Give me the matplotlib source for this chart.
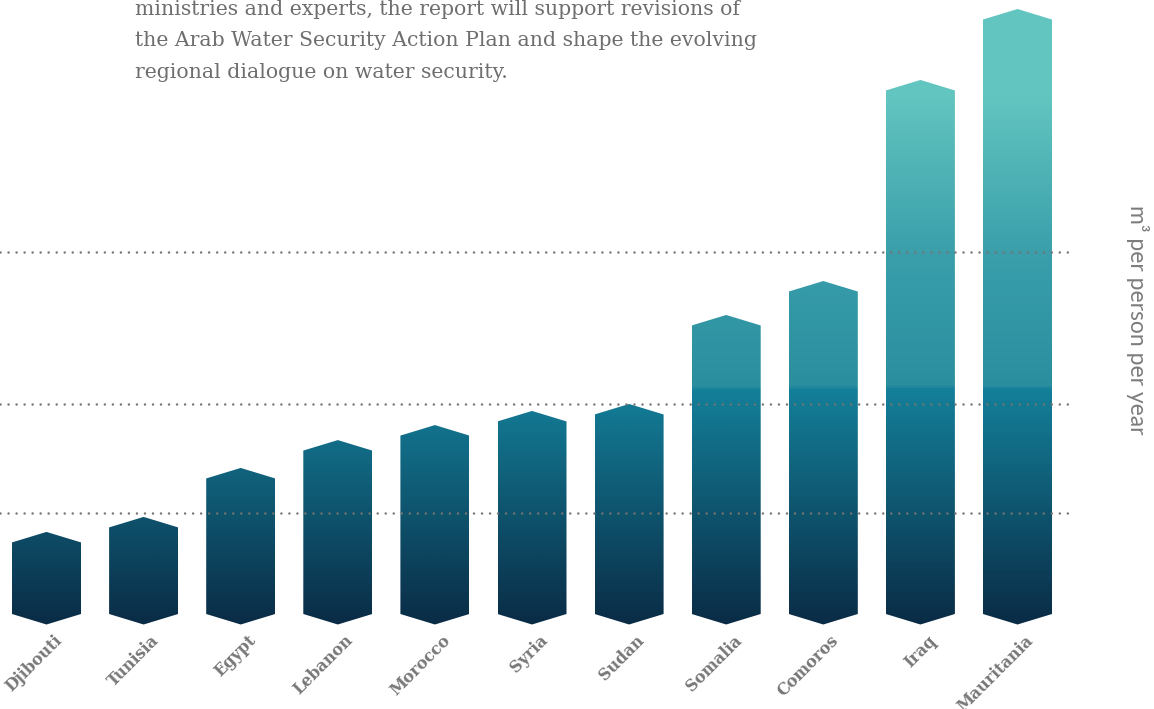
import matplotlib
matplotlib.use("Agg")
import matplotlib.pyplot as plt
import numpy as np
from matplotlib.colors import LinearSegmentedColormap, Normalize
from matplotlib.patches import Polygon

# data
countries = ["Djibouti", "Tunisia", "Egypt", "Lebanon", "Morocco", "Syria",
             "Sudan", "Somalia", "Comoros", "Iraq", "Mauritania"]
values = [414, 483, 708, 836, 905, 970, 1002, 1411, 1567, 2491, 2817]  # m3 per person per year
thresholds = [1700, 1000, 500]
intro_lines = ["ministries and experts, the report will support revisions of",
               "the Arab Water Security Action Plan and shape the evolving",
               "regional dialogue on water security."]
unit_label = "m³ per person per year"

# figure: 1154 x 709 px
W, H = 1154, 709
fig = plt.figure(figsize=(W / 100, H / 100), dpi=100, facecolor="white")
ax = fig.add_axes([0, 0, 1, 1])
ax.set_axis_off()

# pixel mapping -> data limits
px0, dpx = 46.5, 97.1          # x pixel of first bar, spacing
py0, kpy = 622.0, 0.2176       # y pixel of value 0, pixels per unit
ax.set_xlim(-px0 / dpx, (W - px0) / dpx)
ax.set_ylim((py0 - H) / kpy, py0 / kpy)

# gradient fixed to the value axis
vmin, vmax = -20, 2900
stops = [(-20, "#0a2b45"), (1075, "#14809a"), (1082, "#2a8e9f"),
         (1700, "#3a9fab"), (2420, "#62c5c0"), (2900, "#62c5c0")]
cmap = LinearSegmentedColormap.from_list(
    "water", [((v - vmin) / (vmax - vmin), c) for v, c in stops])
norm = Normalize(vmin, vmax)

half_w = 69 / dpx / 2
tip = 10.5 / kpy
base = (py0 - 624.5) / kpy

for i, v in enumerate(values):
    x0, x1 = i - half_w, i + half_w
    verts = [(i, base), (x1, base + tip), (x1, v - tip), (i, v),
             (x0, v - tip), (x0, base + tip)]
    poly = Polygon(verts, closed=True, facecolor="none", edgecolor="none")
    ax.add_patch(poly)
    grad = np.linspace(v, base, 400).reshape(-1, 1)
    im = ax.imshow(grad, cmap=cmap, norm=norm, aspect="auto",
                   extent=(x0, x1, base, v), interpolation="bilinear", zorder=2)
    im.set_clip_path(poly)

# threshold dotted lines (drawn over bars)
for t in thresholds:
    ax.axhline(t, xmin=0, xmax=1075 / W, color="#747474", lw=1.8,
               linestyle=(0, (0.01, 3.2)), dash_capstyle="round", zorder=3)

# category labels
for i, name in enumerate(countries):
    ax.text(i + 7 / dpx, (py0 - 632) / kpy, name, rotation=45,
            rotation_mode="anchor", ha="right", va="top",
            fontsize=11.5, fontweight="bold", family="DejaVu Serif",
            color="#777777", zorder=4)

# intro paragraph (top, partly cut), fitted to the reference line width
renderer = fig.canvas.get_renderer()
para = []
for j, line in enumerate(intro_lines):
    para.append(fig.text(135 / W, 1 - (15 + 31.3 * j) / H, line, ha="left",
                         va="baseline", fontsize=14, family="DejaVu Serif",
                         color="#6e6e6e"))
w_ref = para[1].get_window_extent(renderer).width
for t in para:
    t.set_fontsize(14 * 622 / w_ref)

# unit label on the right
fig.text(1138 / W, 1 - 320 / H, unit_label, rotation=270, ha="center",
         va="center", fontsize=16.5, family="Lato", color="#7c7c7c")

fig.savefig("out.png", dpi=100, facecolor="white")
